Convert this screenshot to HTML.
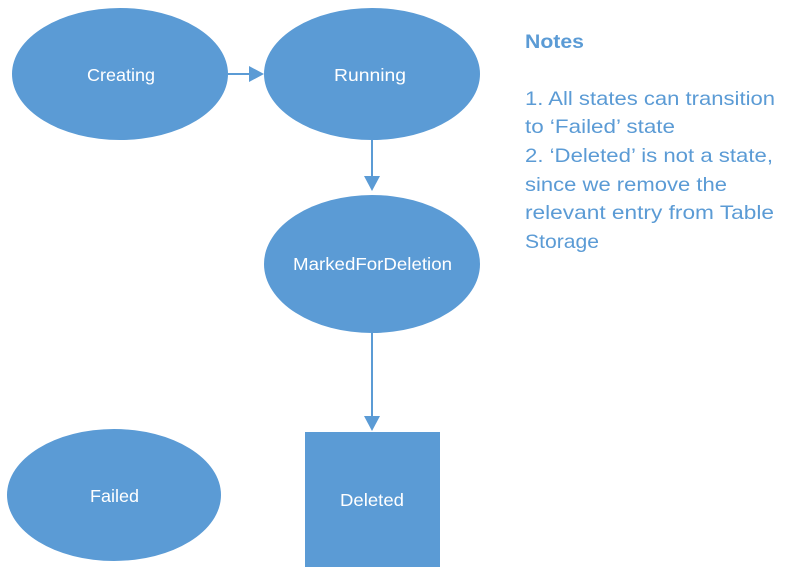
<!DOCTYPE html>
<html><head><style>
body{margin:0;width:794px;height:579px;background:#fff;overflow:hidden}
</style></head><body>
<svg width="794" height="579" xmlns="http://www.w3.org/2000/svg" style="position:absolute;left:0;top:0">
<g fill="#5b9bd5">
<ellipse cx="120" cy="74" rx="108" ry="66"/>
<ellipse cx="372" cy="74" rx="108" ry="66"/>
<ellipse cx="372" cy="264" rx="108" ry="69"/>
<ellipse cx="114" cy="495" rx="107" ry="66"/>
<rect x="305" y="432" width="135" height="135"/>
</g>
<g stroke="#5b9bd5" stroke-width="2" fill="#5b9bd5">
<line x1="228" y1="74" x2="250" y2="74"/>
<polygon points="249,66 264,74 249,82" stroke="none"/>
<line x1="372" y1="140" x2="372" y2="178"/>
<polygon points="364,176 372,191 380,176" stroke="none"/>
<line x1="372" y1="333" x2="372" y2="418"/>
<polygon points="364,416 372,431 380,416" stroke="none"/>
</g>
<g fill="#fff" font-family="Liberation Sans, sans-serif" font-size="17.5" lengthAdjust="spacingAndGlyphs">
<text x="87" y="81" textLength="68" lengthAdjust="spacingAndGlyphs">Creating</text>
<text x="334" y="81" textLength="72" lengthAdjust="spacingAndGlyphs">Running</text>
<text x="293" y="270" textLength="159" lengthAdjust="spacingAndGlyphs">MarkedForDeletion</text>
<text x="90" y="502" textLength="49" lengthAdjust="spacingAndGlyphs">Failed</text>
<text x="340" y="506" textLength="64" lengthAdjust="spacingAndGlyphs">Deleted</text>
</g>
<g fill="#5b9bd5" font-family="Liberation Sans, sans-serif" font-size="19.5">
<text x="525" y="48" font-weight="bold" textLength="59" lengthAdjust="spacingAndGlyphs">Notes</text>
<text x="525" y="105" textLength="250" lengthAdjust="spacingAndGlyphs">1. All states can transition</text>
<text x="525" y="133" textLength="150" lengthAdjust="spacingAndGlyphs">to ‘Failed’ state</text>
<text x="525" y="162" textLength="248" lengthAdjust="spacingAndGlyphs">2. ‘Deleted’ is not a state,</text>
<text x="525" y="191" textLength="202" lengthAdjust="spacingAndGlyphs">since we remove the</text>
<text x="525" y="219" textLength="249" lengthAdjust="spacingAndGlyphs">relevant entry from Table</text>
<text x="525" y="248" textLength="74" lengthAdjust="spacingAndGlyphs">Storage</text>
</g>
</svg>
</body></html>
